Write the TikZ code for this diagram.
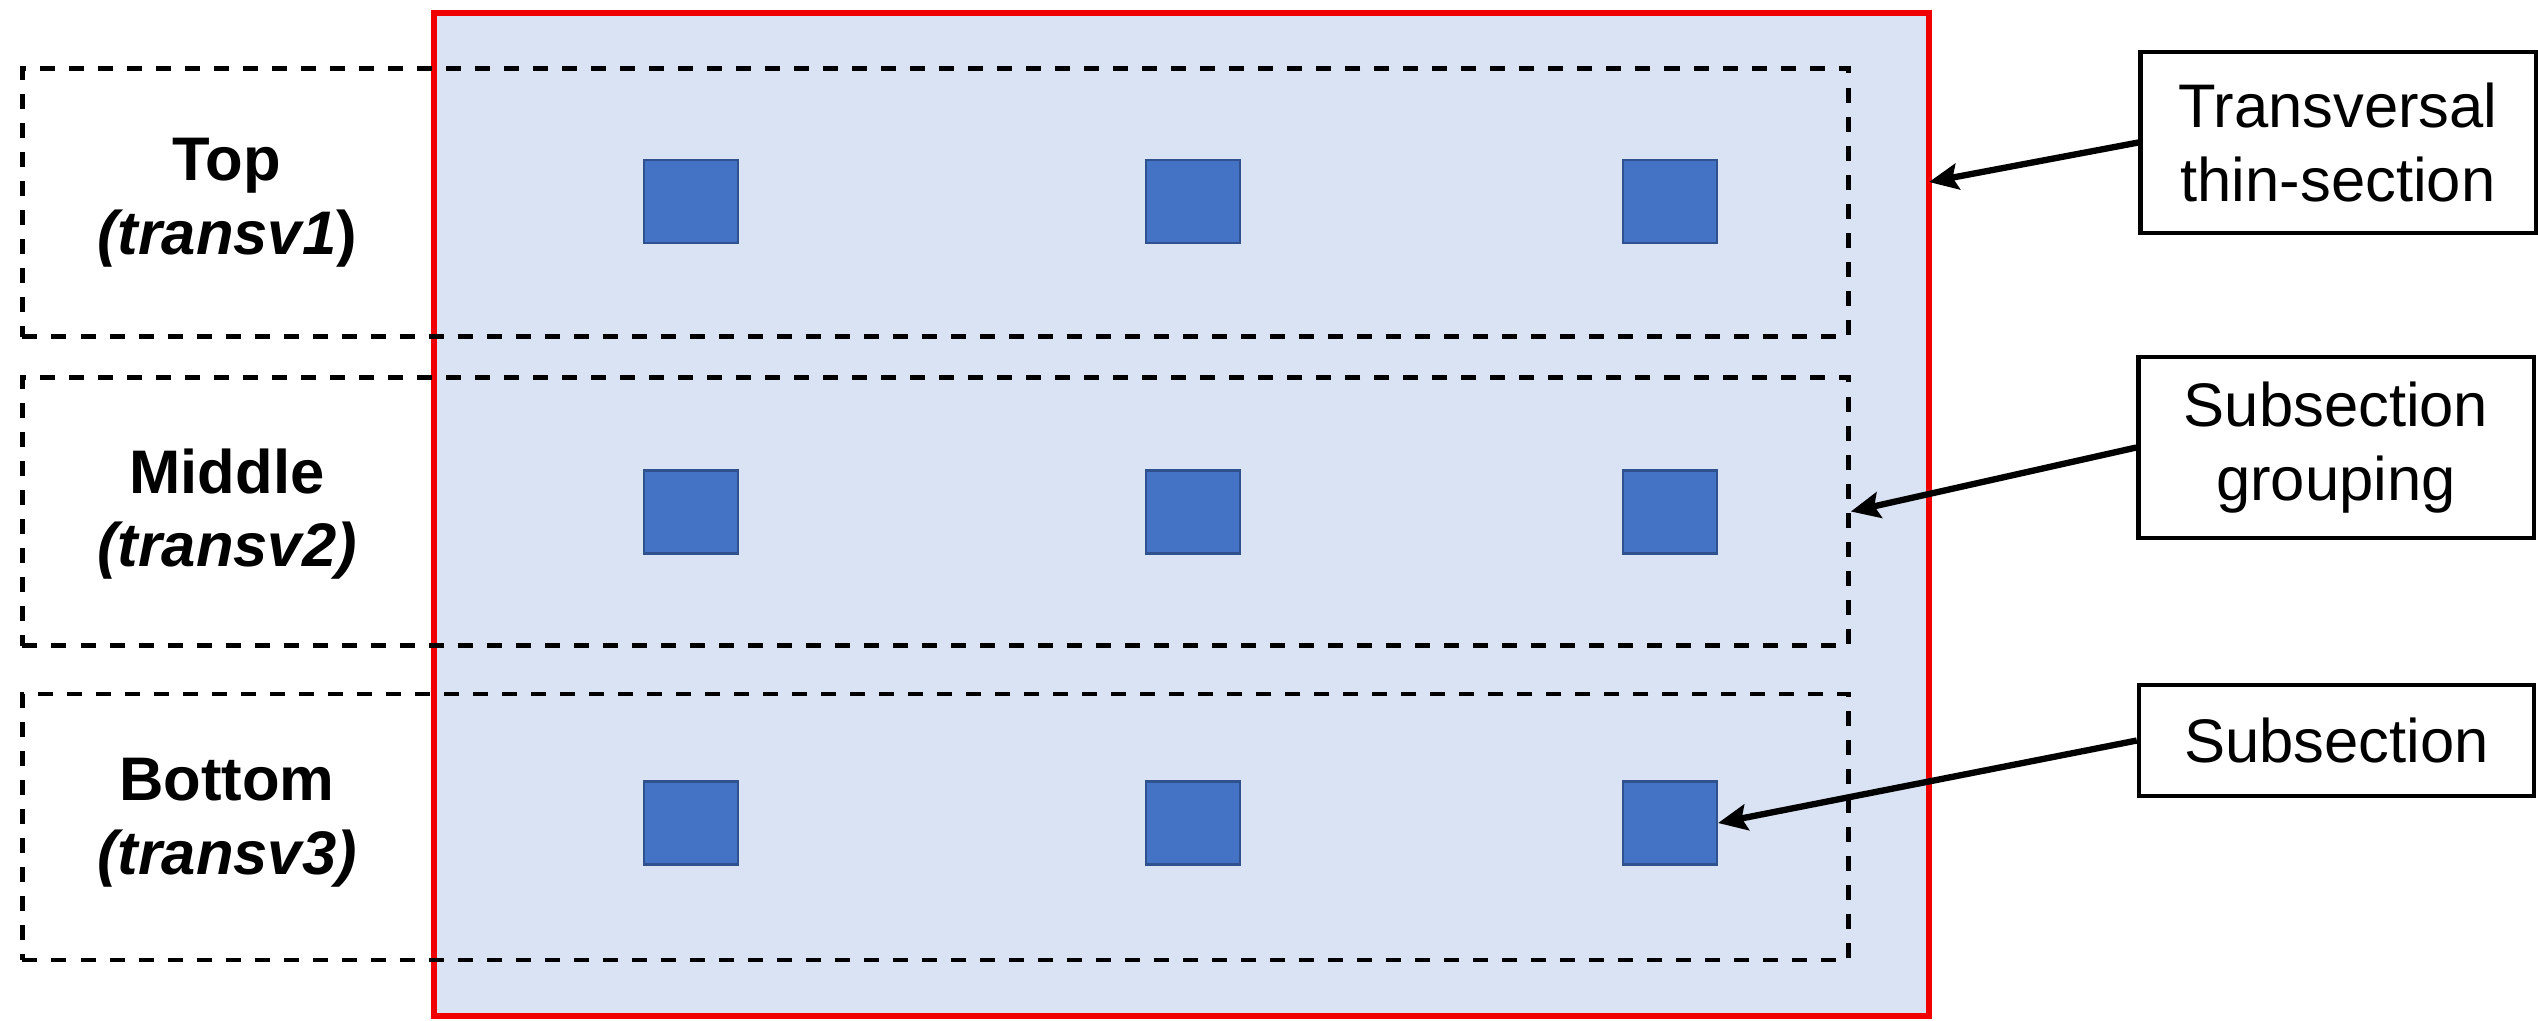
\documentclass[tikz,border=0pt]{standalone}
\usepackage{fontspec}
\setmainfont{Liberation Sans}
\usetikzlibrary{arrows.meta}
\definecolor{secfill}{HTML}{DAE3F3}
\definecolor{sqfill}{HTML}{4472C4}
\definecolor{sqdraw}{HTML}{2F528F}
\definecolor{secred}{HTML}{F00000}
\begin{document}
\begin{tikzpicture}[x=0.01cm, y=-0.01cm,
  secbox/.style={draw=secred, line width=1.7pt, fill=secfill, inner sep=0pt,
    minimum width=14.95cm, minimum height=10.03cm},
  grp/.style={draw=black, dash pattern=on 0.15cm off 0.14cm, line width=1.3pt,
    inner sep=0pt, minimum width=18.25cm, minimum height=2.68cm},
  sqr/.style={fill=sqfill, draw=sqdraw, line width=0.6pt, inner sep=0pt,
    minimum width=0.94cm, minimum height=0.83cm},
  lbl/.style={font=\bfseries\fontsize{17.5}{21}\selectfont, align=center},
  callout/.style={draw=black, line width=1.2pt, fill=white, align=center,
    font=\fontsize{17.5}{21}\selectfont, inner sep=0pt, minimum width=3.95cm},
  arr/.style={-{Stealth[length=0.29cm, width=0.26cm, inset=0.05cm]}, line width=1.8pt}
]
\useasboundingbox (0,0) rectangle (2538,1020);

% transversal thin-section
\node[secbox] (sec) at (1181.5,514.5) {};

% subsection groupings
\node[grp] (g1) at (935.5,202.5) {};
\node[grp] (g2) at (935.5,511.5) {};
\node[grp, minimum height=2.66cm] (g3) at (935.5,827) {};

% subsections
\foreach \r/\y in {1/201.5, 2/512, 3/823} {
  \foreach \c/\x in {1/691, 2/1193, 3/1670} {
    \node[sqr] (s\r\c) at (\x,\y) {};
  }
}

% left labels
\node[lbl] (l1) at (227,203) {Top\\\textit{(transv1})};
\node[lbl] (l2) at (227,514) {Middle\\\textit{(transv2)}};
\node[lbl] (l3) at (227,823) {Bottom\\\textit{(transv3)}};

% callouts
\node[callout, minimum height=1.81cm] (c1) at (2338,142.5) {Transversal\\thin-section};
\node[callout, minimum height=1.81cm] (c2) at (2336,447.5) {Subsection\\grouping};
\node[callout, minimum height=1.11cm] (c3) at (2336.5,740.5) {Subsection};

% arrows
\coordinate (t1) at (1929,182);
\draw[arr] (c1.west) -- (t1);
\draw[arr] (c2.west) -- (g2.east);
\draw[arr] (c3.west) -- (s33.east);
\end{tikzpicture}
\end{document}
